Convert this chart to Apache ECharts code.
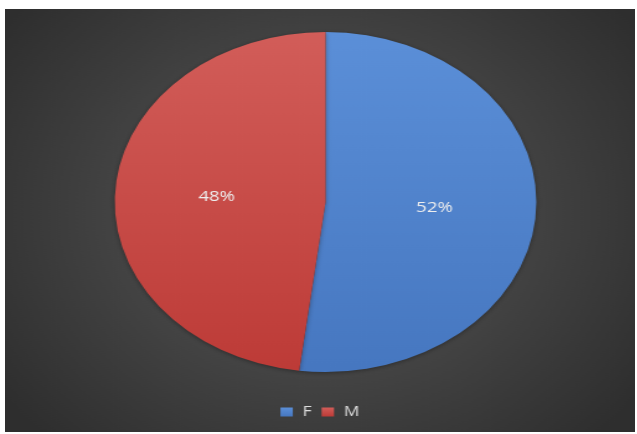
<!DOCTYPE html>
<html>
<head>
<meta charset="utf-8">
<script src="https://cdn.jsdelivr.net/npm/echarts@6/dist/echarts.min.js"></script>
<style>
  html, body { margin: 0; padding: 0; background: #ffffff; width: 637px; height: 434px; overflow: hidden; }
  /* The chart is laid out on a narrower canvas and widened, giving the oval pie */
  #chart {
    position: absolute; left: 5px; top: 9px;
    width: 508px; height: 423px;
    transform: scaleX(1.24); transform-origin: 0 0;
  }
</style>
</head>
<body>
<div id="chart"></div>
<script>
  const categories = ['F', 'M'];
  const values = [52, 48];
  const sliceColors = [
    ['#5b8fd8', '#4677c0'],
    ['#d25d59', '#bd3b37']
  ];

  const chart = echarts.init(document.getElementById('chart'), null, { renderer: 'canvas' });

  const pieData = categories.map((name, i) => ({
    name: name,
    value: values[i],
    itemStyle: {
      color: {
        type: 'linear', x: 0, y: 0, x2: 0, y2: 1,
        colorStops: [
          { offset: 0, color: sliceColors[i][0] },
          { offset: 1, color: sliceColors[i][1] }
        ]
      }
    }
  }));

  chart.setOption({
    backgroundColor: {
      type: 'radial', x: 0.5, y: 0.48, r: 0.75,
      colorStops: [
        { offset: 0, color: '#5a5a5a' },
        { offset: 1, color: '#2e2e2e' }
      ]
    },
    animation: false,
    legend: {
      data: categories,
      top: 391,
      left: 'center',
      itemWidth: 10,
      itemHeight: 9,
      itemGap: 8,
      icon: 'rect',
      textStyle: {
        color: '#dcdcdc',
        fontSize: 14,
        fontFamily: 'Open Sans, Liberation Sans, sans-serif',
        padding: [0, 0, 0, 3]
      }
    },
    series: [{
      type: 'pie',
      center: [258.5, 193],
      radius: 170,
      startAngle: 90,
      clockwise: true,
      data: pieData,
      label: {
        show: true,
        position: 'inside',
        formatter: '{d}%',
        color: '#eeeeee',
        fontSize: 15,
        fontFamily: 'Open Sans, Liberation Sans, sans-serif'
      },
      labelLine: { show: false },
      emphasis: { disabled: true },
      itemStyle: {
        borderWidth: 0,
        shadowBlur: 4,
        shadowColor: 'rgba(0,0,0,0.35)',
        shadowOffsetY: 1
      }
    }]
  });
</script>
</body>
</html>
